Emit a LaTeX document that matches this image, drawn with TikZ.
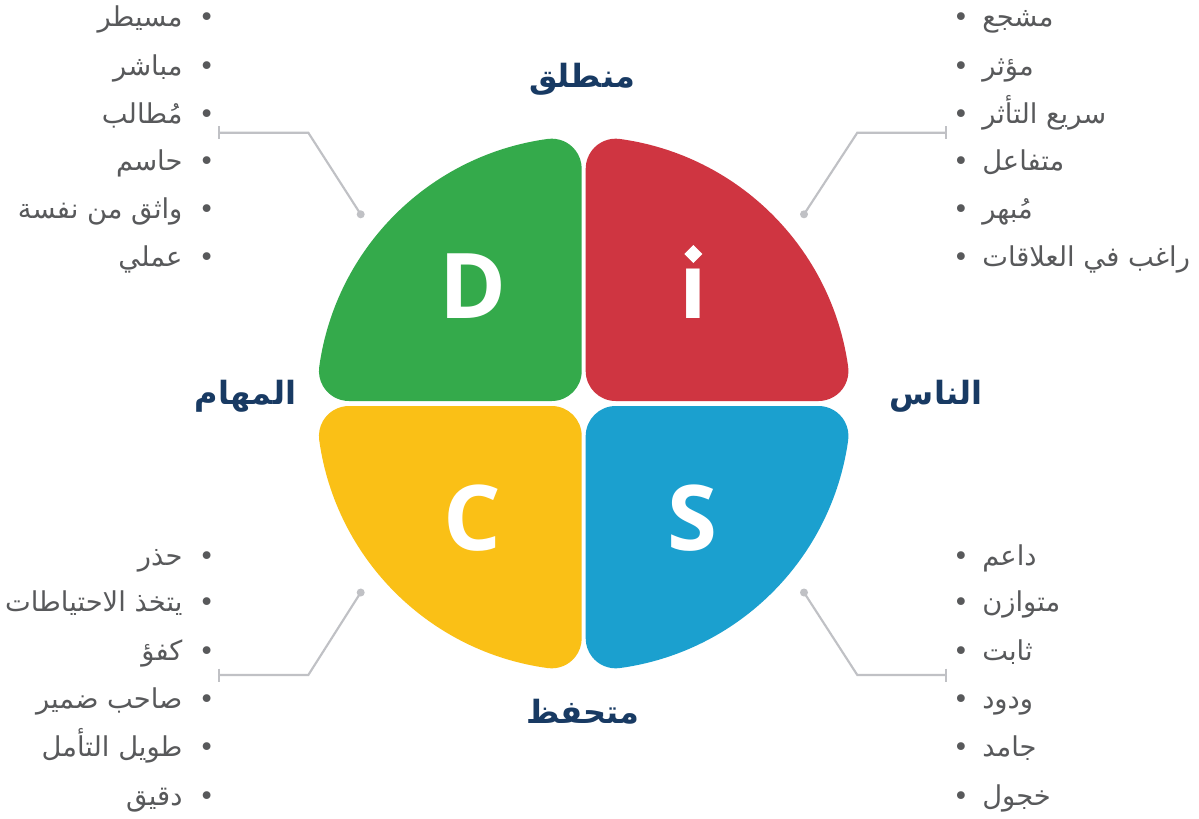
\documentclass[tikz,border=0pt]{standalone}
\usepackage{fontspec}
\setmainfont{DejaVu Sans}
\newfontfamily\arab[Script=Arabic]{DejaVu Sans}
\newfontfamily\discfont{Open Sans}
\TeXXeTstate=1
\definecolor{discgreen}{RGB}{52,170,75}
\definecolor{discred}{RGB}{207,53,65}
\definecolor{discyellow}{RGB}{250,192,22}
\definecolor{discblue}{RGB}{27,160,207}
\definecolor{navy}{RGB}{24,58,99}
\definecolor{itemgray}{RGB}{88,89,91}
\definecolor{linegray}{RGB}{192,193,197}
\newcommand\quadpath{(32,2.5) -- (234.76,2.5) arc[start angle=-90, end angle=7.88, radius=30] arc[start angle=7.88, end angle=82.24, radius=267] arc[start angle=82.24, end angle=180, radius=30] -- (2,32.5) arc[start angle=180, end angle=270, radius=30] -- cycle}
\tikzset{
  letter/.style={text=white, inner sep=0pt, anchor=base, font=\discfont\bfseries\fontsize{68pt}{70pt}\selectfont},
  heading/.style={text=navy, inner sep=0pt, font=\arab\bfseries\fontsize{24pt}{28pt}\selectfont},
  itemtxt/.style={text=itemgray, inner sep=0pt, font=\arab\fontsize{20.5pt}{24pt}\selectfont},
  bul/.style={text=itemgray, inner sep=0pt, anchor=base, font=\arab\fontsize{20pt}{24pt}\selectfont},
  conn/.style={draw=linegray, line width=1.6},
  connend/.style={fill=linegray},
}
\newcommand\leftitem[3]{%
  \node[bul] (lb#1) at (206.7,{-(#2)-10}) {•};
  \node[itemtxt, anchor=base east] (lt#1) at (182.7,{-(#2)-10}) {#3};}
\newcommand\rightitem[3]{%
  \node[bul] (rb#1) at (961,{-(#2)-10}) {•};
  \node[itemtxt, anchor=base west] (rt#1) at (982,{-(#2)-10}) {#3};}
\begin{document}
\begin{tikzpicture}[x=0.75pt, y=0.75pt]
\useasboundingbox (0,0) rectangle (1199,-818);
\fill[white] (0,0) rectangle (1199,-818);
% quadrants
\begin{scope}[shift={(583.7,-403.5)}]
  \fill[discred] \quadpath;
  \begin{scope}[xscale=-1] \fill[discgreen] \quadpath; \end{scope}
  \begin{scope}[xscale=-1, yscale=-1] \fill[discyellow] \quadpath; \end{scope}
  \begin{scope}[yscale=-1] \fill[discblue] \quadpath; \end{scope}
\end{scope}
% letters
\node[letter] (D) at (473.3,-318.3) {D};
\node[letter] (I) at (693.3,-318.3) {ı};
\fill[white] (693.3,-245) -- (702.3,-254) -- (693.3,-263) -- (684.3,-254) -- cycle;
\node[letter] (C) at (472,-550.5) {C};
\node[letter] (S) at (692,-550.5) {S};
% headings
\node[heading] (top) at (582,-79) {\beginR منطلق\endR};
\node[heading] (left) at (245.5,-396) {\beginR المهام\endR};
\node[heading] (right) at (936,-396) {\beginR الناس\endR};
\node[heading] (bottom) at (583,-712) {\beginR متحفظ\endR};
% lists
\leftitem{1}{16.7}{\beginR مسيطر\endR}
\leftitem{2}{65}{\beginR مباشر\endR}
\leftitem{3}{113.3}{\beginR مُطالب\endR}
\leftitem{4}{160}{\beginR حاسم\endR}
\leftitem{5}{208.3}{\beginR واثق من نفسة\endR}
\leftitem{6}{256.7}{\beginR عملي\endR}
\rightitem{1}{16.7}{\beginR مشجع\endR}
\rightitem{2}{65}{\beginR مؤثر\endR}
\rightitem{3}{113.3}{\beginR سريع التأثر\endR}
\rightitem{4}{160}{\beginR متفاعل\endR}
\rightitem{5}{208.3}{\beginR مُبهر\endR}
\rightitem{6}{256.7}{\beginR راغب في العلاقات\endR}
\leftitem{7}{555}{\beginR حذر\endR}
\leftitem{8}{601.7}{\beginR يتخذ الاحتياطات\endR}
\leftitem{9}{650}{\beginR كفؤ\endR}
\leftitem{10}{698}{\beginR صاحب ضمير\endR}
\leftitem{11}{746.7}{\beginR طويل التأمل\endR}
\leftitem{12}{795}{\beginR دقيق\endR}
\rightitem{7}{555}{\beginR داعم\endR}
\rightitem{8}{601.7}{\beginR متوازن\endR}
\rightitem{9}{650}{\beginR ثابت\endR}
\rightitem{10}{698}{\beginR ودود\endR}
\rightitem{11}{746.7}{\beginR جامد\endR}
\rightitem{12}{795}{\beginR خجول\endR}
% connectors
\coordinate (dTL) at (360.7,-214.3);
\coordinate (kTL) at (308.3,-132.7);
\coordinate (tTL) at (219,-132.7);
\coordinate (dTR) at (804,-214.3);
\coordinate (kTR) at (857.3,-132.7);
\coordinate (tTR) at (946,-132.7);
\coordinate (dBL) at (360.7,-592.5);
\coordinate (kBL) at (308.3,-675);
\coordinate (tBL) at (219,-675);
\coordinate (dBR) at (804,-592.5);
\coordinate (kBR) at (857.3,-675);
\coordinate (tBR) at (946,-675);
\foreach \c in {TL,TR,BL,BR}{
  \draw[conn] (d\c) -- (k\c) -- (t\c);
  \draw[conn] ([yshift=6.5*0.75pt]t\c) -- ([yshift=-6.5*0.75pt]t\c);
  \fill[connend] (d\c) circle (4);
}
\end{tikzpicture}
\end{document}
